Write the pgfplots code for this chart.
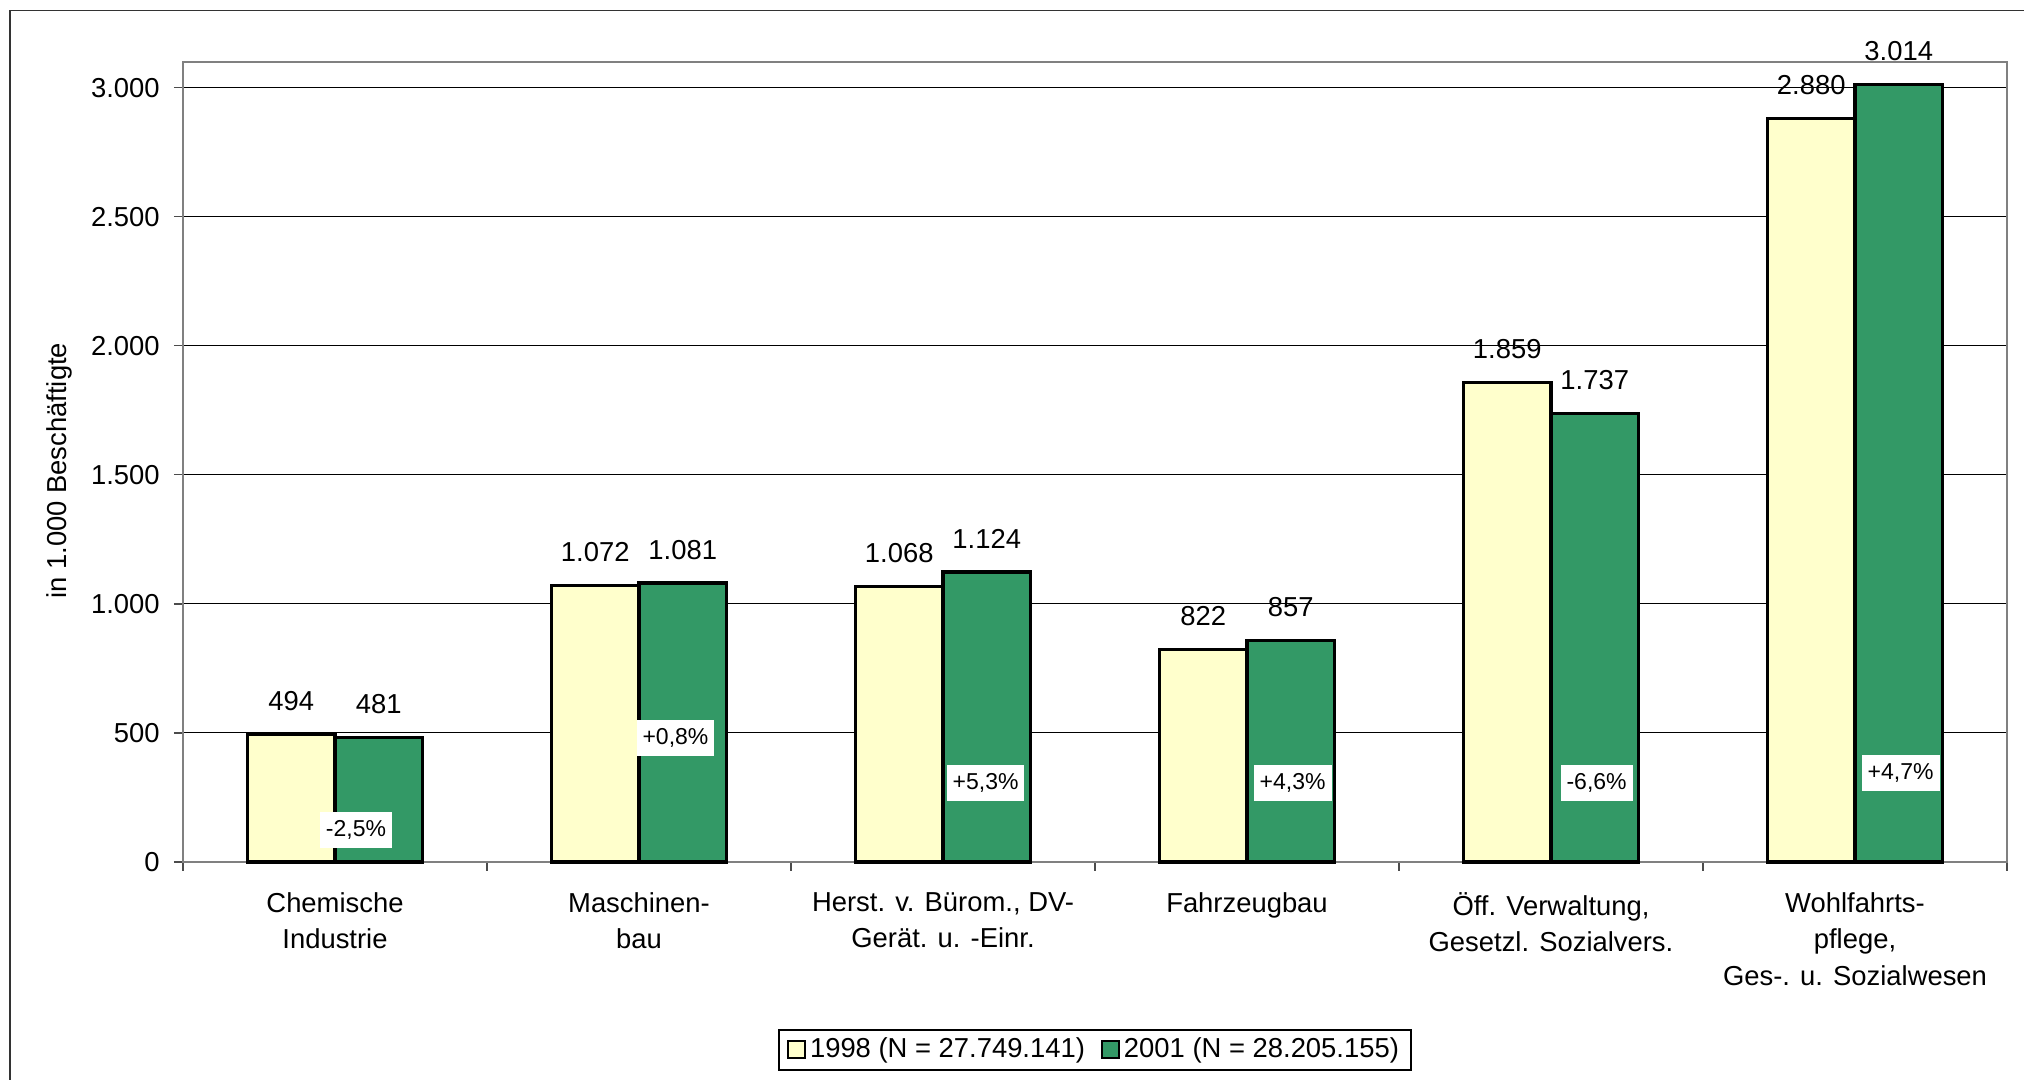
\documentclass[border=0pt]{standalone}
\usepackage{fontspec}
\setmainfont{Liberation Sans}
\usepackage{pgfplots}
\pgfplotsset{compat=1.18}
\definecolor{gelb}{HTML}{FFFFCC}
\definecolor{gruen}{HTML}{339966}
\definecolor{rahmen}{HTML}{808080}

\begin{document}
\fontsize{13.7}{15.8}\selectfont
\begin{tikzpicture}
\path[use as bounding box] (0,0) rectangle (1012pt,540pt);
\draw[line width=0.8pt, black!80] (5pt,-5pt) -- (5pt,534.7pt) -- (1020pt,534.7pt);
\begin{axis}[
  at={(91.5pt,109pt)}, anchor=south west,
  scale only axis, width=912pt, height=400pt,
  xmin=-0.5, xmax=5.5, ymin=0, ymax=3100,
  clip=false,
  axis line style={draw=rahmen, line width=1pt},
  ytick={0,500,...,3000},
  ymajorgrids,
  grid style={black, line width=0.5pt},
  tick align=outside,
  xtick pos=bottom, ytick pos=left,
  tick style={black!70, line width=0.6pt},
  major tick length=4.5pt,
  /pgf/number format/1000 sep={.},
  /pgf/number format/assume math mode=true,
  yticklabel style={inner sep=0pt, xshift=-7pt},
  xtick={-0.5,0.5,...,5.5},
  xticklabels={},
  extra x ticks={0,1,2,3,4,5},
  extra x tick labels={Chemische\\Industrie, Maschinen-\\bau, {Herst. v. Bürom., DV-\\Gerät. u. -Einr.}, Fahrzeugbau, {Öff. Verwaltung,\\Gesetzl. Sozialvers.}, {Wohlfahrts-\\pflege,\\Ges-. u. Sozialwesen}},
  extra x tick style={major tick length=0pt, grid=none,
    tick label style={align=center, anchor=north, inner sep=0pt, yshift=-15pt,
      font=\fontsize{13.7}{18.2}\selectfont}},
  ylabel={in 1.000 Beschäftigte},
  ylabel style={at={(axis description cs:-0.068,0.489)}, anchor=center},
  legend style={at={(0.5,-0.235)}, anchor=center, legend columns=2,
    draw=black, line width=0.6pt, inner xsep=4pt, inner ysep=2pt,
    /tikz/every even column/.append style={column sep=6pt}},
  legend image code/.code={\draw[#1, line width=1pt] (0pt,-4.25pt) rectangle (8.5pt,4.25pt);},
]

\addplot[ybar, bar width=43.75pt, bar shift=-21.875pt, fill=gelb, draw=black, line width=1.6pt,
  nodes near coords, nodes near coords style={anchor=south, inner sep=0pt, yshift=11pt, xshift=-21.875pt}]
  coordinates {(0,494) (1,1072) (2,1068) (3,822) (4,1859) (5,2880)};
\addlegendentry{1998 (N = 27.749.141)}

\addplot[ybar, bar width=43.75pt, bar shift=21.875pt, fill=gruen, draw=black, line width=1.6pt,
  nodes near coords, nodes near coords style={anchor=south, inner sep=0pt, yshift=11pt, xshift=21.875pt}]
  coordinates {(0,481) (1,1081) (2,1124) (3,857) (4,1737) (5,3014)};
\addlegendentry{2001 (N = 28.205.155)}

% Veraenderung 1998-2001
\addplot[forget plot, only marks, mark=none, nodes near coords, point meta=explicit symbolic,
  nodes near coords style={anchor=center, fill=white, inner xsep=3pt, inner ysep=0pt,
    minimum height=18pt, font=\fontsize{11.5}{13}\selectfont}]
  coordinates {
    (0.069,124) [-2,5\%]
    (1.12,480) [+0,8\%]
    (2.14,305) [+5,3\%]
    (3.15,305) [+4,3\%]
    (4.15,305) [-6,6\%]
    (5.15,345) [+4,7\%]
  };

\end{axis}
\end{tikzpicture}
\end{document}
